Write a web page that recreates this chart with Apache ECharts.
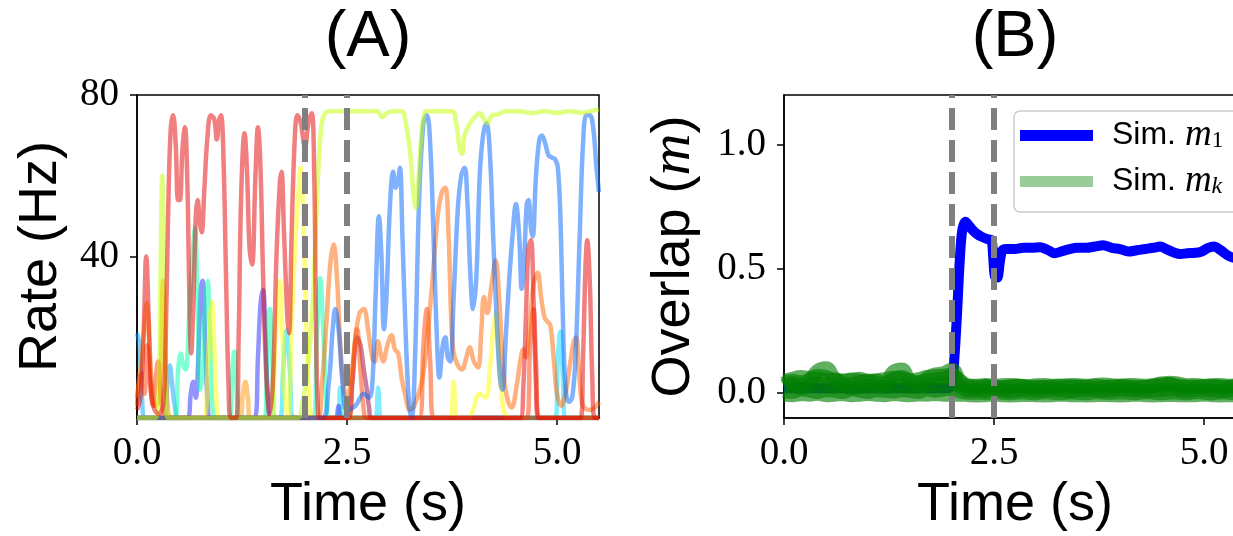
<!DOCTYPE html>
<html>
<head>
<meta charset="utf-8">
<script src="https://cdn.jsdelivr.net/npm/echarts@6/dist/echarts.min.js"></script>
<style>
  html, body { margin: 0; padding: 0; overflow: hidden; background: #ffffff; }
  #chart { width: 1260px; height: 536px; }
</style>
</head>
<body>
<div id="chart"></div>
<script>
// ---------- data ----------
// stimulus window (s), marked by dashed lines in both panels
const cueTimes = [2.0, 2.5];

// tick values
const timeTicks = [0, 2.5, 5.0];
const rateTicks = [40, 80];
const overlapTicks = [0, 0.5, 1.0];

// (A) firing rates of individual units, [time (s), rate (Hz)]
const rateRed = [[0,2],[0.04,5],[0.08,22],[0.11,40],[0.14,24],[0.17,6],[0.21,2],[0.26,1],[0.31,3],[0.34,18],[0.37,50],[0.4,71],[0.43,75],[0.46,68],[0.49,54],[0.51,54],[0.54,66],[0.57,72],[0.6,58],[0.62,34],[0.645,16],[0.67,28],[0.7,50],[0.72,54],[0.75,48],[0.77,46],[0.8,56],[0.84,70],[0.88,75],[0.92,74],[0.95,69],[0.98,74],[1.0,75],[1.03,64],[1.06,35],[1.09,8],[1.12,0],[1.18,0],[1.21,20],[1.24,55],[1.28,70.5],[1.31,61],[1.34,42],[1.37,38],[1.41,60],[1.44,72],[1.47,62],[1.5,36],[1.54,10],[1.58,1],[1.62,10],[1.66,40],[1.7,58],[1.72,61],[1.75,46],[1.79,25],[1.81,21],[1.84,45],[1.88,70],[1.91,75],[1.95,73],[2.0,67],[2.04,73],[2.08,75.5],[2.11,60],[2.13,25],[2.15,4],[2.18,0],[4.56,0],[4.6,8],[4.63,25],[4.66,42],[4.69,44],[4.72,30],[4.75,8],[4.78,0],[5.28,0],[5.31,15],[5.34,38],[5.36,44],[5.39,34],[5.42,10],[5.45,0],[5.5,0]];
const rateLime = [[0,0],[0.22,0],[0.26,8],[0.28,35],[0.3,60],[0.32,38],[0.34,6],[0.37,0],[1.9,0],[1.97,4],[2.03,12],[2.08,24],[2.12,42],[2.16,62],[2.2,73],[2.24,75.5],[2.3,76],[2.45,76],[2.6,76],[2.75,76],[2.86,76],[2.92,74.5],[2.97,75.5],[3.05,76],[3.15,76],[3.2,73],[3.25,66],[3.29,56],[3.32,52],[3.36,62],[3.4,73],[3.45,76],[3.6,76],[3.75,76],[3.8,73],[3.84,67],[3.87,65.5],[3.9,70],[3.95,72.5],[4.0,74],[4.08,75.5],[4.13,74],[4.17,73],[4.22,74.8],[4.3,75.2],[4.4,76],[4.55,76],[4.7,75.5],[4.85,76],[5.0,75.6],[5.15,76],[5.3,75.6],[5.4,76],[5.5,76.5]];
const rateBlue = [[0,0],[2.2,0],[2.28,8],[2.33,22],[2.36,27],[2.4,22],[2.45,8],[2.5,2],[2.6,3],[2.7,6],[2.76,5],[2.8,8],[2.84,30],[2.88,50],[2.91,40],[2.94,22],[2.97,30],[3.01,52],[3.05,61],[3.08,57],[3.11,59],[3.13,62],[3.16,45],[3.2,20],[3.24,3],[3.27,0],[3.31,15],[3.36,55],[3.41,73],[3.45,75],[3.49,68],[3.53,45],[3.57,20],[3.6,10],[3.64,18],[3.67,20],[3.7,15],[3.73,14],[3.77,30],[3.82,52],[3.86,60],[3.9,62],[3.93,55],[3.97,35],[4.0,27],[4.04,35],[4.08,60],[4.12,70],[4.16,73],[4.2,66],[4.24,45],[4.28,25],[4.32,10],[4.35,7],[4.39,20],[4.43,34],[4.47,45],[4.51,53],[4.55,45],[4.58,32],[4.61,40],[4.64,53],[4.66,54],[4.69,47],[4.71,45],[4.75,60],[4.79,69],[4.82,70],[4.86,68],[4.9,65],[4.94,64.5],[4.98,64],[5.01,62],[5.04,50],[5.07,25],[5.1,8],[5.14,4],[5.18,5],[5.22,15],[5.27,45],[5.31,68],[5.35,75],[5.39,75],[5.43,72],[5.47,62],[5.5,56]];
const rateOrange = [[0,0],[2.15,0],[2.2,8],[2.25,22],[2.3,38],[2.34,43],[2.38,35],[2.42,18],[2.46,8],[2.5,5],[2.55,10],[2.6,20],[2.65,26],[2.7,27],[2.75,22],[2.8,15],[2.83,14],[2.87,19],[2.9,16],[2.93,14],[2.98,18],[3.03,20.5],[3.07,17],[3.11,16],[3.15,10],[3.19,6],[3.25,2],[3.3,3],[3.4,10],[3.5,30],[3.58,50],[3.63,56],[3.67,57],[3.71,45],[3.74,25],[3.77,16],[3.82,13],[3.87,12],[3.92,15],[3.96,17.5],[4.01,14],[4.06,12.5],[4.1,22],[4.13,30],[4.17,26],[4.22,33],[4.27,39],[4.31,30],[4.35,15],[4.38,8],[4.42,4],[4.46,2.6],[4.52,8],[4.57,15],[4.6,17],[4.63,15],[4.67,22],[4.72,33],[4.77,36],[4.81,30],[4.85,25],[4.88,24],[4.92,23],[4.96,15],[5.0,6],[5.05,3],[5.1,6],[5.16,14],[5.2,19],[5.23,20],[5.26,12],[5.31,3],[5.4,2],[5.5,4]];
const rateOrangeRed = [[0,3],[0.03,10],[0.06,11],[0.09,6],[0.12,18],[0.15,10],[0.19,3],[0.22,9],[0.25,14],[0.28,6],[0.32,1],[0.38,0],[2.52,0],[2.57,12],[2.62,22],[2.66,12],[2.7,2],[2.74,0],[3.36,0],[3.41,18],[3.45,27],[3.49,14],[3.53,0],[4.64,0],[4.68,18],[4.72,27],[4.75,14],[4.79,0],[5.5,0]];
const rateAqua = [[0,0],[0.45,0],[0.49,12],[0.52,16],[0.55,13],[0.58,12],[0.62,25],[0.66,40],[0.69,47],[0.72,30],[0.75,7],[0.78,10],[0.81,28],[0.84,34],[0.87,20],[0.9,2],[0.95,0],[1.1,0],[1.13,10],[1.16,16.5],[1.19,5],[1.22,0],[1.52,0],[1.55,18],[1.58,27],[1.61,15],[1.64,0],[2.1,0],[2.14,20],[2.18,34.6],[2.22,20],[2.26,2],[2.3,0],[5.5,0]];
const rateViolet = [[0,0],[0.6,0],[0.64,6],[0.67,9],[0.7,5],[0.73,15],[0.76,32],[0.78,34],[0.81,20],[0.84,4],[0.87,0],[1.4,0],[1.44,15],[1.47,28],[1.5,31.7],[1.53,20],[1.56,5],[1.6,0],[2.35,0],[2.4,3],[2.43,0],[5.5,0]];
const rateYellow = [[0,0],[0.8,0],[0.84,12],[0.87,25],[0.89,28.8],[0.92,18],[0.95,3],[0.98,0],[1.6,0],[1.64,15],[1.68,30],[1.7,34],[1.73,22],[1.76,5],[1.8,0],[1.84,22],[1.88,42],[1.92,55],[1.95,62],[1.98,50],[2.02,20],[2.06,2],[2.1,0],[3.72,0],[3.77,9],[3.81,0],[3.95,0],[4.0,2],[4.08,6],[4.15,5],[4.2,12],[4.24,22],[4.27,26],[4.3,18],[4.34,6],[4.38,1],[4.45,0],[5.5,0]];
const rateCyan = [[0,0],[1.7,0],[1.74,12],[1.78,21.7],[1.82,12],[1.86,0],[2.38,0],[2.42,7.5],[2.46,0],[2.84,0],[2.87,7.5],[2.91,0],[4.98,0],[5.01,15],[5.04,21.4],[5.07,10],[5.1,0],[5.5,0]];
const rateSky = [[0,21],[0.03,18],[0.06,5],[0.1,0],[0.33,0],[0.36,8],[0.39,13],[0.42,8],[0.45,3],[0.5,0],[5.5,0]];
const rateApricot = [[0,5],[0.04,12],[0.08,20],[0.115,28.5],[0.15,18],[0.18,8],[0.22,3],[0.27,5],[0.31,34],[0.34,15],[0.37,2],[0.42,0],[1.22,0],[1.26,6],[1.29,9],[1.32,5],[1.35,0],[5.5,0]];
const rateMaroon = [[0,0],[2.5,0],[2.56,8],[2.62,20],[2.66,18],[2.7,12],[2.73,8],[2.76,3],[2.8,0],[5.5,0]];

// (B) overlap with the cued pattern, [time (s), m1]
const overlapCued = [[0,0.02],[0.5,0.02],[1.0,0.02],[1.5,0.02],[1.95,0.02],[2.0,0.04],[2.03,0.15],[2.06,0.32],[2.09,0.52],[2.12,0.65],[2.16,0.69],[2.2,0.675],[2.25,0.655],[2.3,0.64],[2.35,0.63],[2.42,0.62],[2.47,0.615],[2.49,0.55],[2.51,0.47],[2.54,0.465],[2.57,0.53],[2.6,0.575],[2.65,0.58],[2.75,0.58],[2.85,0.585],[2.95,0.585],[3.05,0.587],[3.15,0.575],[3.22,0.563],[3.3,0.57],[3.4,0.58],[3.5,0.585],[3.6,0.585],[3.7,0.59],[3.8,0.595],[3.9,0.585],[4.0,0.58],[4.1,0.57],[4.2,0.575],[4.3,0.58],[4.4,0.585],[4.48,0.59],[4.55,0.58],[4.65,0.565],[4.72,0.56],[4.8,0.563],[4.9,0.565],[4.97,0.57],[5.05,0.585],[5.12,0.59],[5.2,0.575],[5.28,0.555],[5.35,0.545],[5.45,0.54],[5.5,0.54]];

// (B) overlaps with the other stored patterns, sampled every 0.1 s from 0 to 5.5 s
const overlapTimes = Array.from({ length: 56 }, (_, i) => i / 10);
const overlapK1 = [0.04,0.05,0.045,0.055,0.07,0.065,0.05,0.05,0.055,0.05,0.045,0.05,0.04,0.055,0.065,0.05,0.045,0.05,0.055,0.06,0.07,0.05,0.03,0.028,0.03,0.027,0.025,0.028,0.03,0.027,0.026,0.025,0.028,0.03,0.027,0.025,0.026,0.03,0.027,0.026,0.03,0.028,0.026,0.025,0.028,0.03,0.036,0.03,0.027,0.026,0.028,0.03,0.027,0.026,0.028,0.027];
const overlapK2 = [-0.006,-0.008,-0.004,-0.006,-0.002,-0.008,-0.006,-0.004,-0.008,-0.006,-0.003,-0.006,-0.008,-0.004,-0.006,-0.008,-0.005,-0.006,-0.004,-0.006,-0.006,-0.006,-0.008,-0.009,-0.008,-0.006,-0.008,-0.009,-0.008,-0.007,-0.008,-0.009,-0.008,-0.006,-0.008,-0.008,-0.009,-0.008,-0.007,-0.008,-0.009,-0.008,-0.006,-0.008,-0.009,-0.008,-0.007,-0.008,-0.008,-0.008,-0.006,-0.008,-0.009,-0.008,-0.008,-0.007];
const overlapK3 = [0.025,0.03,0.02,0.03,0.04,0.035,0.025,0.03,0.02,0.025,0.03,0.028,0.025,0.03,0.035,0.025,0.028,0.03,0.035,0.04,0.045,0.025,0.012,0.012,0.01,0.014,0.012,0.008,0.012,0.014,0.01,0.012,0.015,0.012,0.008,0.012,0.014,0.012,0.01,0.012,0.015,0.014,0.012,0.01,0.012,0.014,0.016,0.012,0.01,0.012,0.014,0.012,0.01,0.012,0.014,0.012];
const overlapK4 = [0.03,0.04,0.035,0.05,0.09,0.1,0.06,0.04,0.035,0.045,0.05,0.04,0.035,0.085,0.095,0.05,0.04,0.06,0.075,0.08,0.095,0.045,0.025,0.022,0.026,0.024,0.022,0.026,0.028,0.024,0.022,0.026,0.024,0.022,0.026,0.028,0.026,0.022,0.024,0.026,0.028,0.024,0.022,0.026,0.03,0.04,0.035,0.026,0.024,0.026,0.028,0.026,0.024,0.026,0.028,0.026];
const overlapK5 = [0.01,0.005,0.015,0.01,0.005,0.012,0.01,0.005,0.015,0.01,0.005,0.012,0.01,0.007,0.012,0.01,0.005,0.015,0.01,0.015,0.018,0.006,0.002,0.002,0.0,0.004,0.002,0.0,0.003,0.002,0.0,0.004,0.002,0.0,0.003,0.002,0.0,0.004,0.002,0.001,0.003,0.002,0.0,0.004,0.002,0.0,0.003,0.002,0.0,0.004,0.002,0.0,0.003,0.002,0.0,0.002];
const overlapK6 = [0.05,0.058,0.065,0.06,0.058,0.052,0.056,0.05,0.052,0.058,0.05,0.052,0.056,0.062,0.058,0.052,0.056,0.065,0.068,0.07,0.075,0.035,0.03,0.03,0.033,0.03,0.032,0.033,0.03,0.028,0.032,0.033,0.03,0.03,0.033,0.032,0.03,0.033,0.035,0.032,0.03,0.033,0.032,0.03,0.033,0.035,0.042,0.038,0.032,0.033,0.03,0.032,0.033,0.03,0.032,0.033];

// ---------- styling ----------
const SANS = '"Liberation Sans", Arial, sans-serif';
const SERIF = '"Liberation Serif", "Times New Roman", serif';

const rateUnits = [
  { data: rateSky,       color: 'rgb(0,160,255)' },
  { data: rateApricot,   color: 'rgb(255,150,0)' },
  { data: rateCyan,      color: 'rgb(0,220,255)' },
  { data: rateViolet,    color: 'rgb(40,40,255)' },
  { data: rateAqua,      color: 'rgb(0,255,170)' },
  { data: rateYellow,    color: 'rgb(255,255,0)' },
  { data: rateMaroon,    color: 'rgb(150,0,60)' },
  { data: rateOrangeRed, color: 'rgb(255,60,0)' },
  { data: rateOrange,    color: 'rgb(255,100,0)' },
  { data: rateBlue,      color: 'rgb(0,100,255)' },
  { data: rateLime,      color: 'rgb(195,255,0)' },
  { data: rateRed,       color: 'rgb(228,0,0)' }
];
const otherOverlaps = [overlapK1, overlapK2, overlapK3, overlapK4, overlapK5, overlapK6];

const tickLabel = { fontFamily: SERIF, fontSize: 39, color: '#000' };
const axisName = { fontFamily: SANS, fontSize: 54, color: '#000' };
const blackLine = { color: '#000', width: 1.5 };

function timeAxis(gridIndex) {
  return {
    type: 'value', gridIndex, min: 0, max: 5.5,
    splitLine: { show: false },
    axisLine: { show: true, onZero: false, lineStyle: blackLine },
    axisTick: { show: true, length: 7, lineStyle: blackLine, customValues: timeTicks },
    axisLabel: Object.assign({ margin: 16, customValues: timeTicks, formatter: v => v.toFixed(1) }, tickLabel),
    name: 'Time (s)', nameLocation: 'middle', nameGap: 60, nameTextStyle: axisName
  };
}

const series = [];
rateUnits.forEach(u => {
  series.push({
    type: 'line', xAxisIndex: 0, yAxisIndex: 0, data: u.data,
    showSymbol: false, symbol: 'none', smooth: 0.4, silent: true, z: 2,
    lineStyle: { width: 4.5, color: u.color, opacity: 0.5 }
  });
});
series.push({
  type: 'line', name: 'm1', xAxisIndex: 1, yAxisIndex: 1, data: overlapCued,
  showSymbol: false, symbol: 'none', smooth: 0.3, silent: true, z: 2,
  itemStyle: { color: '#0000ff' },
  lineStyle: { width: 10, color: '#0000ff' }
});
otherOverlaps.forEach(vals => {
  series.push({
    type: 'line', name: 'mk', xAxisIndex: 1, yAxisIndex: 1,
    data: vals.map((v, i) => [overlapTimes[i], v]),
    showSymbol: false, symbol: 'none', smooth: 0.5, silent: true, z: 3,
    itemStyle: { color: '#008000' },
    lineStyle: { width: 14, color: '#008000', opacity: 0.62 }
  });
});
// dashed cue markers, drawn above the traces
[0, 1].forEach(g => {
  series.push({
    type: 'line', xAxisIndex: g, yAxisIndex: g, data: [], silent: true, z: 6,
    markLine: {
      symbol: 'none', silent: true, animation: false,
      label: { show: false },
      lineStyle: { color: '#808080', width: 6, type: [22, 10], opacity: 1 },
      emphasis: { disabled: true },
      data: cueTimes.map(t => ({ xAxis: t }))
    }
  });
});

const option = {
  animation: false,
  backgroundColor: '#ffffff',
  title: [
    { text: '(A)', left: 368, top: 6, textAlign: 'center', padding: 0,
      textStyle: { fontFamily: SANS, fontSize: 65, fontWeight: 'normal', color: '#000' } },
    { text: '(B)', left: 1015, top: 6, textAlign: 'center', padding: 0,
      textStyle: { fontFamily: SANS, fontSize: 65, fontWeight: 'normal', color: '#000' } }
  ],
  grid: [
    { left: 137, top: 95, width: 462, height: 323, show: true, borderColor: '#000', borderWidth: 1.5, backgroundColor: 'transparent', containLabel: false, outerBoundsMode: 'none' },
    { left: 784, top: 95, width: 462, height: 323, show: true, borderColor: '#000', borderWidth: 1.5, backgroundColor: 'transparent', containLabel: false, outerBoundsMode: 'none' }
  ],
  xAxis: [timeAxis(0), timeAxis(1)],
  yAxis: [
    {
      type: 'value', gridIndex: 0, min: 0, max: 80,
      splitLine: { show: false },
      axisLine: { show: true, onZero: false, lineStyle: blackLine },
      axisTick: { show: true, length: 7, lineStyle: blackLine, customValues: rateTicks },
      axisLabel: Object.assign({ margin: 18, customValues: rateTicks }, tickLabel),
      name: 'Rate (Hz)', nameLocation: 'middle', nameGap: 69, nameTextStyle: axisName
    },
    {
      type: 'value', gridIndex: 1, min: -0.1, max: 1.2,
      splitLine: { show: false },
      axisLine: { show: true, onZero: false, lineStyle: blackLine },
      axisTick: { show: true, length: 7, lineStyle: blackLine, customValues: overlapTicks },
      axisLabel: Object.assign({ margin: 18, customValues: overlapTicks, formatter: v => v.toFixed(1) }, tickLabel),
      name: '{a|Overlap (}{m|m}{a|)}', nameLocation: 'middle', nameGap: 81,
      nameTextStyle: {
        color: '#000',
        rich: {
          a: { fontFamily: SANS, fontSize: 54, color: '#000' },
          m: { fontFamily: SERIF, fontStyle: 'italic', fontSize: 58, color: '#000' }
        }
      }
    }
  ],
  legend: {
    orient: 'vertical', left: 1014, top: 111,
    padding: [6, 30, 12, 6], itemGap: 9, itemWidth: 73, itemHeight: 11,
    backgroundColor: 'rgba(255,255,255,0.8)', borderColor: '#cccccc', borderWidth: 1.5, borderRadius: 6,
    selectedMode: false,
    data: [
      { name: 'm1', icon: 'rect', itemStyle: { color: '#0000ff', opacity: 1 } },
      { name: 'mk', icon: 'rect', itemStyle: { color: '#99cc99', opacity: 1 } }
    ],
    formatter: name => name === 'm1' ? '{s|Sim. }{m|m}{n|1}' : '{s|Sim. }{m|m}{k|k}',
    textStyle: {
      color: '#000', fontFamily: SANS, fontSize: 32, lineHeight: 34,
      rich: {
        s: { fontFamily: SANS, fontSize: 32, lineHeight: 34, padding: [0, 0, 0, 14], color: '#000' },
        m: { fontFamily: SERIF, fontStyle: 'italic', fontSize: 37, lineHeight: 34, color: '#000' },
        n: { fontFamily: SERIF, fontSize: 24, lineHeight: 20, verticalAlign: 'bottom', color: '#000' },
        k: { fontFamily: SERIF, fontStyle: 'italic', fontSize: 24, lineHeight: 20, verticalAlign: 'bottom', color: '#000' }
      }
    }
  },
  series
};

const chart = echarts.init(document.getElementById('chart'), null, { renderer: 'canvas' });
chart.setOption(option);
</script>
</body>
</html>
